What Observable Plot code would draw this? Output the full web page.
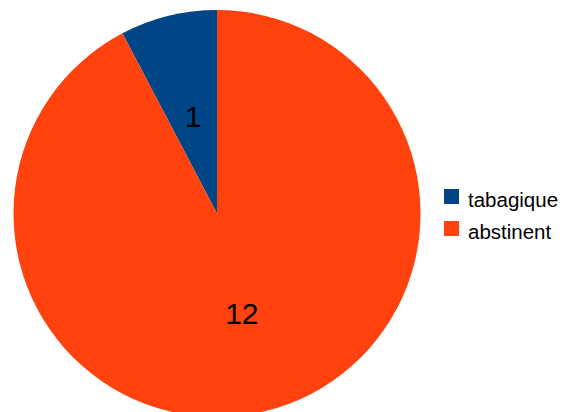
<!DOCTYPE html>
<html><head><meta charset="utf-8">
<script src="https://cdn.jsdelivr.net/npm/d3@7"></script>
<script src="https://cdn.jsdelivr.net/npm/@observablehq/plot@0.6"></script>
<style>
body{margin:0;background:#fff;}
#chart{position:relative;width:574px;height:412px;overflow:hidden;}
</style></head><body><div id="chart"></div>
<script>
const categories = ["tabagique", "abstinent"];
const values = [1, 12];
const colors = ["#004586", "#ff420e"];

const pie = d3.pie().sort(null).value(d => d.value).startAngle(0).endAngle(-2 * Math.PI);
const table = categories.map((c, i) => ({cat: c, value: values[i]}));
const arcs = pie(table);
const unitArc = d3.arc().innerRadius(0).outerRadius(1);
arcs.forEach(a => {
  const [cx, cy] = unitArc.centroid(a);
  a.cx = cx; a.cy = cy; a.cat = a.data.cat; a.value = a.data.value;
});

const colorFor = (scales, c) => (scales && scales.color) ? scales.color(c) : colors[categories.indexOf(c)];

const pieMark = (index, scales, values, dimensions, context) => {
  const sx = scales.x, sy = scales.y;
  const cx = sx(0), cy = sy(0);
  const r = (sx(1) - sx(-1)) / 2;
  const arc = d3.arc().innerRadius(0).outerRadius(r);
  const g = d3.create("svg:g").attr("transform", `translate(${cx},${cy})`);
  g.selectAll("path").data(arcs).join("path")
    .attr("d", arc)
    .attr("fill", d => colorFor(scales, d.cat));
  return g.node();
};

const chart = Plot.plot({
  width: 574,
  height: 412,
  margin: 0,
  x: {domain: [-1, 1], range: [13.5, 420.5], axis: null},
  y: {domain: [-1, 1], range: [10, 417], axis: null},
  color: {domain: categories, range: colors},
  style: {background: "#fff", overflow: "visible"},
  marks: [
    Plot.dot(arcs, {x: "cx", y: "cy", fill: "cat", r: 0}),
    pieMark,
    Plot.text(arcs, {x: "cx", y: "cy", text: d => String(d.value), fontSize: 30,
      fontFamily: "Liberation Sans, Arial, sans-serif", fill: "#000", dy: 2})
  ]
});

// legend
const svg = d3.select(chart.tagName.toLowerCase() === "svg" ? chart : chart.querySelector("svg"));
const lg = svg.append("g")
  .attr("font-family", "Liberation Sans, Arial, sans-serif")
  .attr("font-size", 20.5)
  .attr("text-anchor", "start");
categories.forEach((c, i) => {
  const top = 189 + i * 32;
  lg.append("rect").attr("x", 444).attr("y", top).attr("width", 15).attr("height", 15).attr("fill", colors[i]);
  lg.append("text").attr("x", 468).attr("y", top + 18).attr("fill", "#000").text(c);
});

document.getElementById("chart").appendChild(chart);
</script></body></html>
